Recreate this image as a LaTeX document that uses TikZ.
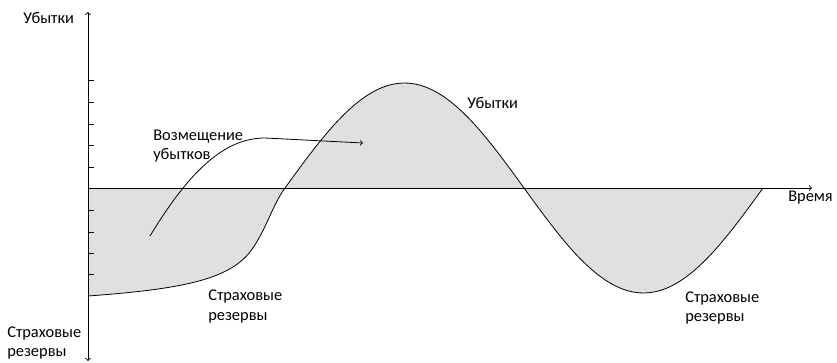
\documentclass[tikz,border=0pt]{standalone}
\usepackage{fontspec}
\setmainfont{Carlito}
\begin{document}
\begin{tikzpicture}[
  x=0.75pt, y=-0.75pt,
  axis/.style={line width=0.65pt},
  curve/.style={line width=0.6pt},
  area/.style={fill=black!12},
  lbl/.style={
    font=\fontsize{12.3}{14.5}\selectfont,
    inner sep=0pt, align=left, anchor=west
  }
]
\useasboundingbox (0,0) rectangle (837,363);
\def\amp{105}
\def\per{478}
\def\losscurve{(88,296) .. controls (170,290) and (215,282) .. (240,262)
  .. controls (262,245) and (270,208) .. (285,188)
  -- plot[domain=285:763, samples=90] (\x, {188-\amp*sin((\x-285)/\per*360)})}

% --- Axes points ---
\coordinate (O) at (88,188);
\coordinate (ytop) at (88,12);
\coordinate (ybot) at (88,361);
\coordinate (xend) at (812,188);

% --- Shaded area and curve ---
\fill[area] (O) -- \losscurve -- cycle;
\draw[curve] \losscurve;

% --- Axes ---
\draw[axis, ->] (O) -- (xend);
\draw[axis, <->] (ybot) -- (ytop);
\foreach \ty in {80,102,124,145,167,210,232,253,274}
  \draw[curve] (88,\ty) -- ++(6,0);

% --- Compensation arrow ---
\coordinate (comp-start) at (150,236);
\coordinate (comp-end) at (363,143);
\draw[curve, ->] (comp-start) .. controls (190,170) and (225,138) .. (265,138) -- (comp-end);

% --- Labels ---
\node[lbl] (loss-axis) at (23,18) {Убытки};
\node[lbl] (res-axis) at (7,343) {Страховые\\резервы};
\node[lbl] (time) at (788,198) {Время};
\node[lbl] (loss-peak) at (467,103) {Убытки};
\node[lbl] (comp) at (153,146) {Возмещение\\убытков};
\node[lbl] (res-mid) at (208,306.5) {Страховые\\резервы};
\node[lbl] (res-right) at (685,308) {Страховые\\резервы};

\end{tikzpicture}
\end{document}
